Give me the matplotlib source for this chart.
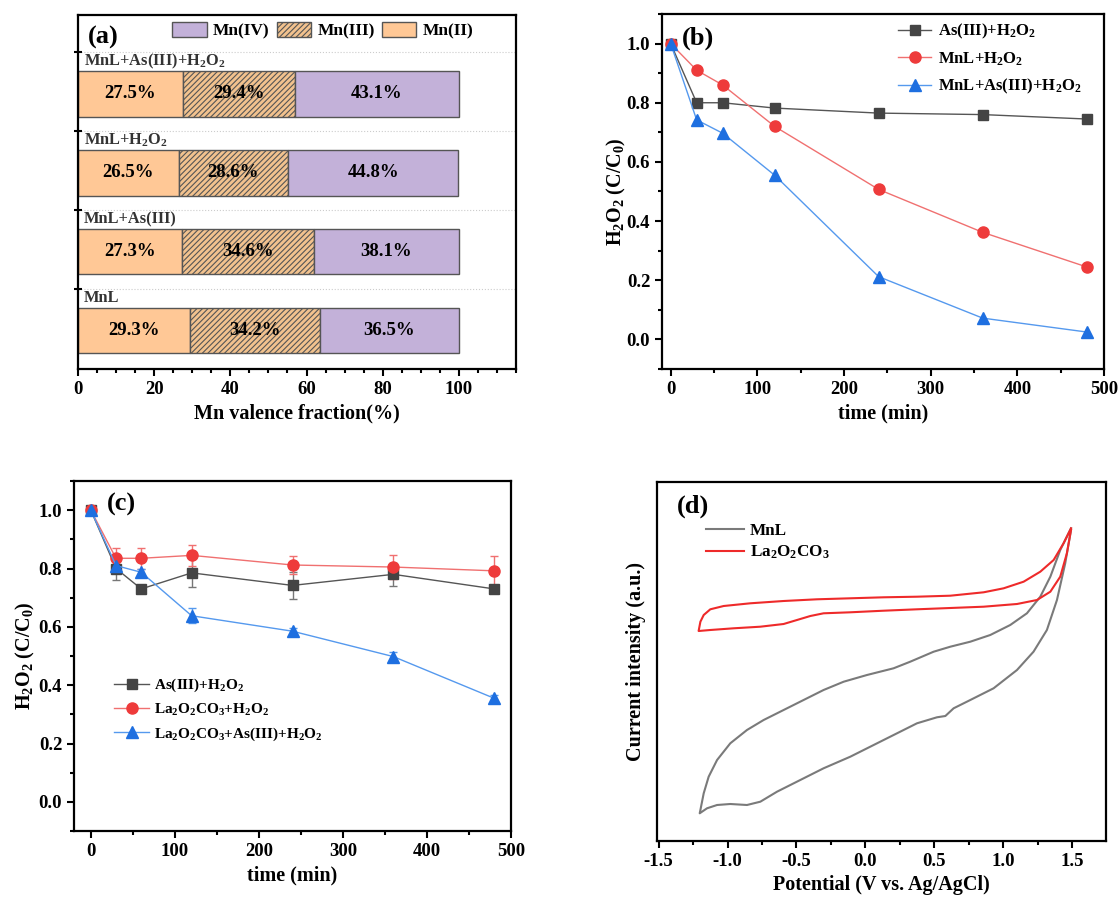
import numpy as np
import matplotlib
matplotlib.use("Agg")
import matplotlib.pyplot as plt
from matplotlib.ticker import MultipleLocator
from matplotlib.lines import Line2D

plt.rcParams['font.family'] = ['Liberation Serif', 'DejaVu Serif']
plt.rcParams['font.weight'] = 'bold'
plt.rcParams['mathtext.fontset'] = 'custom'
plt.rcParams['mathtext.rm'] = 'Liberation Serif:bold'
plt.rcParams['mathtext.it'] = 'Liberation Serif:italic:bold'
plt.rcParams['mathtext.bf'] = 'Liberation Serif:bold'
plt.rcParams['mathtext.default'] = 'rm'
plt.rcParams['axes.unicode_minus'] = False
plt.rcParams['axes.linewidth'] = 1.6
plt.rcParams['hatch.linewidth'] = 0.8
plt.rcParams['hatch.color'] = '#8B5A2B'

# ---- (a) Mn valence fractions ----
samples = ['MnL', 'MnL+As(III)', 'MnL+H$_2$O$_2$', 'MnL+As(III)+H$_2$O$_2$']
mn2 = [29.3, 27.3, 26.5, 27.5]
mn3 = [34.2, 34.6, 28.6, 29.4]
mn4 = [36.5, 38.1, 44.8, 43.1]

# ---- (b) H2O2 decay with MnL ----
time = [0, 30, 60, 120, 240, 360, 480]
b_as = [1.0, 0.80, 0.80, 0.782, 0.765, 0.76, 0.745]
b_mnl = [1.0, 0.91, 0.86, 0.72, 0.507, 0.362, 0.245]
b_mnl_as = [1.0, 0.742, 0.697, 0.555, 0.212, 0.072, 0.025]

# ---- (c) H2O2 decay with La2O2CO3 ----
c_as = [1.0, 0.80, 0.73, 0.785, 0.742, 0.78, 0.73]
c_as_err = [0, 0.04, 0.015, 0.05, 0.045, 0.04, 0.015]
c_la = [1.0, 0.835, 0.835, 0.845, 0.812, 0.805, 0.792]
c_la_err = [0, 0.035, 0.035, 0.035, 0.03, 0.04, 0.05]
c_la_as = [1.0, 0.81, 0.787, 0.638, 0.585, 0.498, 0.355]
c_la_as_err = [0, 0.02, 0.01, 0.025, 0.01, 0.015, 0.01]

# ---- (d) CV loops (potential V, current a.u.) ----
mnl_E = [1.493, 1.415, 1.343, 1.270, 1.173, 1.052, 0.907, 0.762, 0.617, 0.496,
         0.326, 0.205, 0.012, -0.157, -0.303, -0.448, -0.593, -0.738, -0.859,
         -0.980, -1.076, -1.137, -1.173, -1.197, -1.202,
         -1.149, -1.076, -0.980, -0.859, -0.762, -0.641, -0.472, -0.303, -0.109,
         0.133, 0.375, 0.520, 0.581, 0.641, 0.762, 0.931, 1.101, 1.221, 1.318,
         1.391, 1.451, 1.493]
mnl_I = [3.127, 2.910, 2.643, 2.443, 2.277, 2.160, 2.060, 1.993, 1.943, 1.893,
         1.793, 1.727, 1.660, 1.593, 1.510, 1.410, 1.310, 1.210, 1.110,
         0.977, 0.810, 0.643, 0.477, 0.310, 0.277,
         0.327, 0.360, 0.370, 0.360, 0.393, 0.493, 0.610, 0.727, 0.843,
         1.010, 1.177, 1.237, 1.250, 1.327, 1.410, 1.527, 1.710, 1.893, 2.110,
         2.410, 2.777, 3.110]
la_E = [1.493, 1.439, 1.367, 1.270, 1.149, 1.004, 0.859, 0.617, 0.375, 0.133,
        -0.109, -0.351, -0.593, -0.835, -1.028, -1.125, -1.173, -1.197, -1.210,
        -1.125, -0.956, -0.762, -0.593, -0.496, -0.399, -0.303, -0.109, 0.133,
        0.375, 0.617, 0.859, 1.101, 1.246, 1.343, 1.415, 1.463, 1.493]
la_I = [3.127, 2.977, 2.810, 2.693, 2.593, 2.527, 2.487, 2.453, 2.443, 2.437,
        2.427, 2.417, 2.400, 2.377, 2.350, 2.317, 2.260, 2.193, 2.100,
        2.110, 2.127, 2.143, 2.170, 2.210, 2.250, 2.277, 2.287, 2.303,
        2.317, 2.330, 2.343, 2.370, 2.410, 2.493, 2.643, 2.877, 3.110]

fig = plt.figure(figsize=(11.2, 9.05), dpi=100)
W, H = 1120, 905

def box(l, t, r, b):
    return [l / W, 1 - b / H, (r - l) / W, (b - t) / H]

def style(ax):
    ax.tick_params(which='both', direction='out', width=1.5, labelsize=13.5)
    ax.tick_params(which='major', length=5)
    ax.tick_params(which='minor', length=3)
    for lab in ax.get_xticklabels() + ax.get_yticklabels():
        lab.set_fontweight('bold')

# (a)
ax = fig.add_axes(box(78, 15, 516, 369))
y = np.arange(len(samples))
h = 0.58
ax.barh(y, mn2, h, color='#FFC896', edgecolor='#555555', lw=1, label='Mn(II)')
ax.barh(y, mn3, h, left=mn2, color='#F2C28E', edgecolor='#555555', lw=1,
        hatch='//////', label='Mn(III)')
left4 = [a + b for a, b in zip(mn2, mn3)]
ax.barh(y, mn4, h, left=left4, color='#C3B1D9', edgecolor='#555555', lw=1, label='Mn(IV)')
for i in range(len(samples)):
    ax.text(mn2[i] / 2, y[i], '%.1f%%' % mn2[i], ha='center', va='center', fontsize=13.5, fontweight='bold')
    ax.text(mn2[i] + mn3[i] / 2, y[i], '%.1f%%' % mn3[i], ha='center', va='center', fontsize=13.5, fontweight='bold')
    ax.text(left4[i] + mn4[i] / 2, y[i], '%.1f%%' % mn4[i], ha='center', va='center', fontsize=13.5, fontweight='bold')
    ax.text(1.5, y[i] + 0.41, samples[i], ha='left', va='center', fontsize=11.8, color='#333333')
    ax.axhline(y[i] + 0.53, color='#cccccc', lw=0.8, ls=':', zorder=0)
ax.set_xlim(0, 115)
ax.set_ylim(-0.49, 4.0)
ax.set_yticks(y + 0.53)
ax.set_yticklabels([])
ax.xaxis.set_major_locator(MultipleLocator(20))
ax.xaxis.set_minor_locator(MultipleLocator(5))
style(ax)
ax.tick_params(axis='y', which='both', direction='inout', length=6)
ax.set_xlabel('Mn valence fraction(%)', fontsize=14.5, fontweight='bold')
hnd, lbl = ax.get_legend_handles_labels()
ax.legend(hnd[::-1], lbl[::-1], ncol=3, loc='center left', bbox_to_anchor=(0.215, 0.955),
          frameon=False, fontsize=12.5, handlelength=2.0, handleheight=0.95, columnspacing=0.4,
          handletextpad=0.35, borderpad=0, borderaxespad=0)
ax.text(0.023, 0.97, '(a)', transform=ax.transAxes, fontsize=19, fontweight='bold', va='top')

# (b)
ax = fig.add_axes(box(662, 14, 1104, 369))
ax.plot(time, b_as, '-s', color='#555555', mfc='#444444', mec='#444444', ms=7, lw=1,
        label='As(III)+H$_2$O$_2$')
ax.plot(time, b_mnl, '-o', color='#F07070', mfc='#EE3B3B', mec='#EE3B3B', ms=8, lw=1,
        label='MnL+H$_2$O$_2$')
ax.plot(time, b_mnl_as, '-^', color='#5599EE', mfc='#1E6FE0', mec='#1E6FE0', ms=8, lw=1,
        label='MnL+As(III)+H$_2$O$_2$')
ax.set_xlim(-10, 500)
ax.set_ylim(-0.1, 1.1)
ax.xaxis.set_major_locator(MultipleLocator(100))
ax.xaxis.set_minor_locator(MultipleLocator(50))
ax.yaxis.set_major_locator(MultipleLocator(0.2))
ax.yaxis.set_minor_locator(MultipleLocator(0.1))
style(ax)
ax.set_xlabel('time (min)', fontsize=14.5, fontweight='bold')
ax.set_ylabel('H$_2$O$_2$ (C/C$_0$)', fontsize=14.5, fontweight='bold', labelpad=-1)
ax.legend(loc='upper left', frameon=False, fontsize=12, handlelength=2.0, handletextpad=0.4,
          bbox_to_anchor=(0.5, 1.02), labelspacing=0.55)
ax.text(0.045, 0.965, '(b)', transform=ax.transAxes, fontsize=19, fontweight='bold', va='top')

# (c)
ax = fig.add_axes(box(74, 481, 511, 831))
ax.errorbar(time, c_as, yerr=c_as_err, fmt='-s', color='#555555', mfc='#444444', mec='#444444',
            ecolor='#777777', ms=7, lw=1, elinewidth=1, capsize=3)
ax.errorbar(time, c_la, yerr=c_la_err, fmt='-o', color='#F07070', mfc='#EE3B3B', mec='#EE3B3B',
            ecolor='#F07070', ms=8, lw=1, elinewidth=1, capsize=3)
ax.errorbar(time, c_la_as, yerr=c_la_as_err, fmt='-^', color='#5599EE', mfc='#1E6FE0', mec='#1E6FE0',
            ecolor='#5599EE', ms=8, lw=1, elinewidth=1, capsize=3)
c_handles = [
    Line2D([], [], marker='s', color='#555555', mfc='#444444', mec='#444444', ms=7, lw=1),
    Line2D([], [], marker='o', color='#F07070', mfc='#EE3B3B', mec='#EE3B3B', ms=8, lw=1),
    Line2D([], [], marker='^', color='#5599EE', mfc='#1E6FE0', mec='#1E6FE0', ms=8, lw=1),
]
c_labels = ['As(III)+H$_2$O$_2$', 'La$_2$O$_2$CO$_3$+H$_2$O$_2$', 'La$_2$O$_2$CO$_3$+As(III)+H$_2$O$_2$']
ax.set_xlim(-20, 500)
ax.set_ylim(-0.1, 1.1)
ax.xaxis.set_major_locator(MultipleLocator(100))
ax.xaxis.set_minor_locator(MultipleLocator(50))
ax.yaxis.set_major_locator(MultipleLocator(0.2))
ax.yaxis.set_minor_locator(MultipleLocator(0.1))
style(ax)
ax.set_xlabel('time (min)', fontsize=14.5, fontweight='bold')
ax.set_ylabel('H$_2$O$_2$ (C/C$_0$)', fontsize=14.5, fontweight='bold', labelpad=1)
ax.legend(c_handles, c_labels, loc='upper left', frameon=False, fontsize=11, handlelength=2.3,
          handletextpad=0.3, bbox_to_anchor=(0.06, 0.48), labelspacing=0.5)
ax.text(0.075, 0.965, '(c)', transform=ax.transAxes, fontsize=19, fontweight='bold', va='top')

# (d)
ax = fig.add_axes(box(657, 482, 1106, 841))
ax.plot(mnl_E, mnl_I, color='#7a7a7a', lw=1.5, label='MnL')
ax.plot(la_E, la_I, color='#EE2A2A', lw=1.5, label='La$_2$O$_2$CO$_3$')
ax.set_xlim(-1.512, 1.747)
ax.set_ylim(0, 3.59)
ax.xaxis.set_major_locator(MultipleLocator(0.5))
ax.xaxis.set_minor_locator(MultipleLocator(0.25))
ax.set_yticks([])
style(ax)
ax.set_xlabel('Potential (V vs. Ag/AgCl)', fontsize=14.5, fontweight='bold')
ax.set_ylabel('Current intensity (a.u.)', fontsize=14.5, fontweight='bold', labelpad=8)
ax.legend(loc='upper left', frameon=False, fontsize=12.3, handlelength=2.2, handletextpad=0.35,
          bbox_to_anchor=(0.075, 0.93), labelspacing=0.3)
ax.text(0.045, 0.965, '(d)', transform=ax.transAxes, fontsize=19, fontweight='bold', va='top')

fig.savefig('out.png', dpi=100)
